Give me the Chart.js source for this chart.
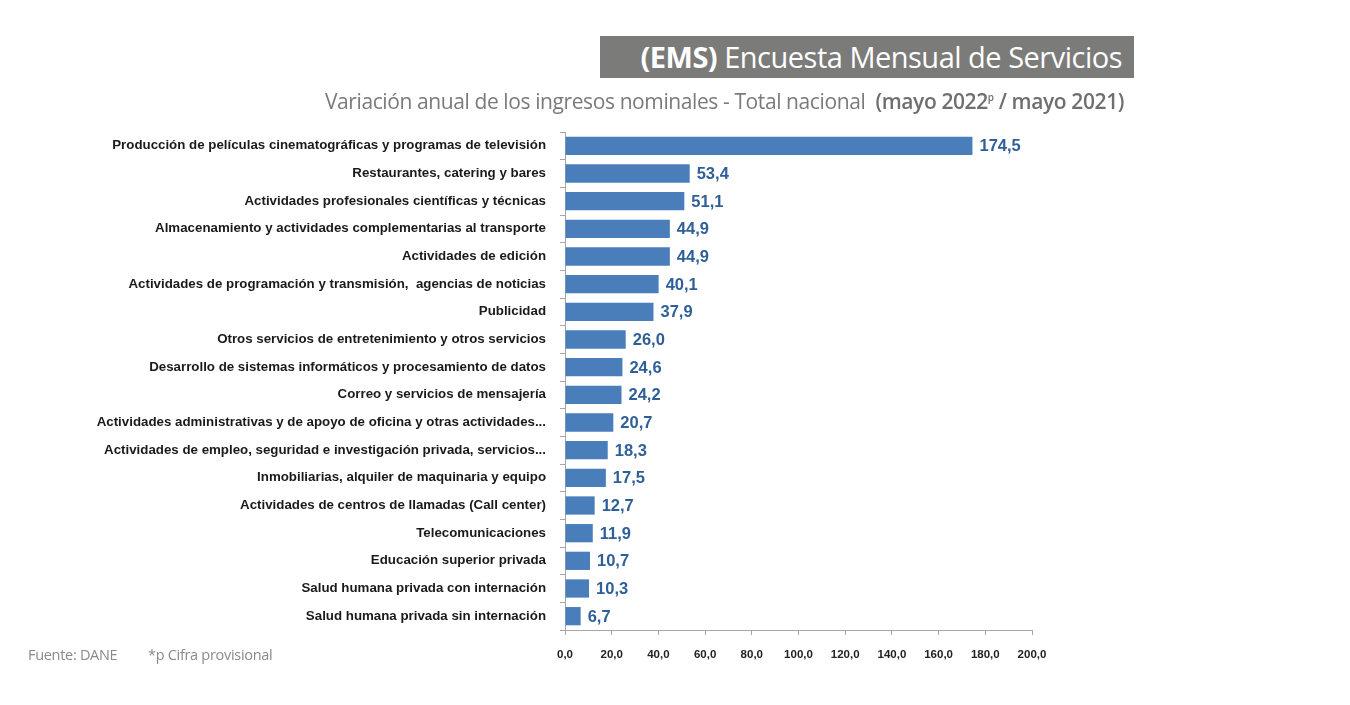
<!DOCTYPE html>
<html>
<head>
<meta charset="UTF-8">
<title>EMS - Variación anual</title>
<style>
  body { margin: 0; background: #fff; }
  #wrap { position: relative; width: 1350px; height: 705px; }
  #chart-container { position: absolute; left: 0; top: 0; width: 1350px; height: 705px; }
  .banner { position: absolute; left: 600px; top: 36px; width: 534px; height: 42px; background: #7b7b79;
    color: #fff; font-family: "Open Sans", sans-serif; font-size: 29px; line-height: 42px; text-align: right;
    box-sizing: border-box; padding-right: 12px; letter-spacing: -0.5px; }
  .sub { position: absolute; right: 226px; top: 87px; font-family: "Open Sans", sans-serif; font-size: 21px;
    color: #7a7a7a; letter-spacing: -0.4px; white-space: nowrap; }
  .sub b { color: #6f6f6f; font-weight: 600; }
  .foot { position: absolute; top: 645px; font-family: "Open Sans", sans-serif; font-size: 14.5px; color: #8a8a8a; letter-spacing: -0.3px; }
</style>
<script src="https://cdn.jsdelivr.net/npm/chart.js@4.4.0/dist/chart.umd.min.js"></script>
</head>
<body>
<div id="wrap">
  <div id="chart-container"><canvas id="mycanvas"></canvas></div>
  <div class="banner"><b>(EMS)</b> Encuesta Mensual de Servicios</div>
  <div class="sub">Variación anual de los ingresos nominales - Total nacional &nbsp;<b>(mayo 2022<sup style="font-size:10px">p</sup> / mayo 2021)</b></div>
  <div class="foot" style="left:28px">Fuente: DANE</div>
  <div class="foot" style="left:148px">*p Cifra provisional</div>
</div>
<script>
var categories = [
  'Producción de películas cinematográficas y programas de televisión',
  'Restaurantes, catering y bares',
  'Actividades profesionales científicas y técnicas',
  'Almacenamiento y actividades complementarias al transporte',
  'Actividades de edición',
  'Actividades de programación y transmisión,  agencias de noticias',
  'Publicidad',
  'Otros servicios de entretenimiento y otros servicios',
  'Desarrollo de sistemas informáticos y procesamiento de datos',
  'Correo y servicios de mensajería',
  'Actividades administrativas y de apoyo de oficina y otras actividades...',
  'Actividades de empleo, seguridad e investigación privada, servicios...',
  'Inmobiliarias, alquiler de maquinaria y equipo',
  'Actividades de centros de llamadas (Call center)',
  'Telecomunicaciones',
  'Educación superior privada',
  'Salud humana privada con internación',
  'Salud humana privada sin internación'
];
var variacion = [174.5, 53.4, 51.1, 44.9, 44.9, 40.1, 37.9, 26.0, 24.6, 24.2, 20.7, 18.3, 17.5, 12.7, 11.9, 10.7, 10.3, 6.7];
var xTicks = [0, 20, 40, 60, 80, 100, 120, 140, 160, 180, 200];

function fmt(v) { return v.toFixed(1).replace('.', ','); }

var valueLabels = {
  id: 'valueLabels',
  afterDatasetsDraw: function(chart) {
    var ctx = chart.ctx;
    var meta = chart.getDatasetMeta(0);
    ctx.save();
    ctx.fillStyle = '#2f5f98';
    ctx.font = 'bold 16.5px "Liberation Sans", sans-serif';
    ctx.textBaseline = 'middle';
    ctx.textAlign = 'left';
    meta.data.forEach(function(bar, i) {
      ctx.fillText(fmt(variacion[i]), bar.x + 7, bar.y + 1);
    });
    ctx.restore();
  }
};

new Chart(document.getElementById('mycanvas'), {
  type: 'bar',
  data: {
    labels: categories,
    datasets: [{
      data: variacion,
      backgroundColor: '#4a7ebb',
      borderWidth: 0,
      categoryPercentage: 1,
      barPercentage: 0.66
    }]
  },
  plugins: [valueLabels],
  options: {
    indexAxis: 'y',
    responsive: true,
    maintainAspectRatio: false,
    animation: false,
    layout: { padding: { top: 132, bottom: 35, left: 0, right: 318 } },
    plugins: { legend: { display: false }, tooltip: { enabled: false } },
    scales: {
      x: {
        min: 0, max: 200,
        afterBuildTicks: function(axis) { axis.ticks = xTicks.map(function(v) { return { value: v }; }); },
        afterFit: function(axis) { axis.height = 40; },
        border: { display: true, color: '#a6a6a6', width: 1 },
        grid: { drawOnChartArea: false, drawTicks: true, tickLength: 5, color: '#a6a6a6' },
        ticks: {
          padding: 13, maxRotation: 0, autoSkip: false,
          color: '#222',
          font: { family: '"Liberation Sans", sans-serif', size: 11.5, weight: 'bold' },
          callback: function(v) { return fmt(v); }
        }
      },
      y: {
        afterFit: function(axis) { axis.width = 565; },
        border: { display: true, color: '#a6a6a6', width: 1 },
        grid: { drawOnChartArea: false, drawTicks: true, tickLength: 5, color: '#a6a6a6', offset: true },
        ticks: {
          padding: 14, autoSkip: false,
          color: '#1a1a1a',
          font: { family: '"Liberation Sans", sans-serif', size: 13.3, weight: 'bold' }
        }
      }
    }
  }
});
</script>
</body>
</html>
